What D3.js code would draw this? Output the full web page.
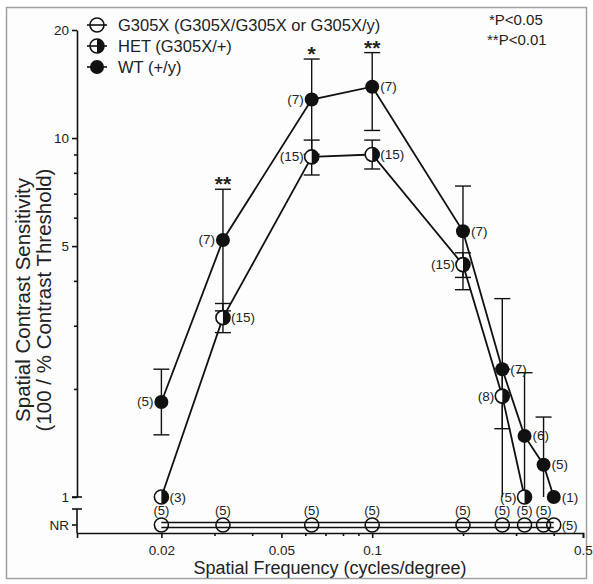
<!DOCTYPE html>
<html>
<head>
<meta charset="utf-8">
<script src="https://cdn.jsdelivr.net/npm/d3@7"></script>
<style>
    body { margin: 0; background: #fff; }
    svg { display: block; font-family: "Liberation Sans", Arial, sans-serif; }
    .axis text { font-size: 13.5px; fill: #222; }
    .axis path, .axis line { stroke: #111; stroke-width: 1.6; }
</style>
</head>
<body>
<svg id="chart"></svg>
<script>
// spatial frequencies (cycles/degree)
const freqs = [0.02, 0.032, 0.063, 0.1, 0.2, 0.27, 0.32, 0.37, 0.4];

// WT (+/y)
const wtMean = [1.84, 5.2, 12.8, 13.9, 5.5, 2.27, 1.48, 1.23, 1.0];
const wtHi   = [2.27, 7.2, 16.6, 17.3, 7.35, 3.57, 2.22, 1.67, null];
const wtLo   = [1.49, 3.3, 9.0, 10.5, 3.78, 0.97, 0.74, 0.79, null];
const wtN    = [5, 7, 7, 7, 7, 7, 6, 5, 1];
const wtSide = ["l", "l", "l", "r", "r", "r", "r", "r", "r"];

// HET (G305X/+) - only the first 7 frequencies
const hetMean = [1.0, 3.16, 8.86, 9.0, 4.44, 1.91, 1.0];
const hetHi   = [null, 3.46, 9.87, 9.87, 4.79, 2.27, null];
const hetLo   = [null, 2.87, 7.89, 8.2, 4.09, 1.55, null];
const hetN    = [3, 15, 15, 15, 15, 8, 5];
const hetSide = ["r", "r", "l", "r", "l", "l", "l"];

// G305X - no response at every frequency
const g305N = [5, 5, 5, 5, 5, 5, 5, 5, 5];

// significance marks
const sigFreq  = [0.032, 0.063, 0.1];
const sigLabel = ["**", "*", "**"];

const yTicks = [1, 5, 10, 20];
const yMinor = [2, 3, 4, 6, 7, 8, 9];
const xTicks = [0.02, 0.05, 0.1, 0.5];
const xMinor = [0.03, 0.04, 0.06, 0.07, 0.08, 0.09, 0.2, 0.3, 0.4];

const legendLabels = ["G305X (G305X/G305X or G305X/y)", "HET (G305X/+)", "WT (+/y)"];

const W = 593, H = 584;
const svg = d3.select("#chart").attr("width", W).attr("height", H);

// outer frame
svg.append("rect")
    .attr("x", 6.5).attr("y", 7.5)
    .attr("width", 580).attr("height", 571)
    .attr("fill", "#fdfdfd")
    .attr("stroke", "#a0a0a0")
    .attr("stroke-width", 1.5);

const x = d3.scaleLog().domain([0.0105, 0.5]).range([77, 583]);
const y = d3.scaleLog().domain([1, 20]).range([497, 30]);
const xAxisY = 533;
const nrY = y(1) + 28;
const yc = v => y(Math.max(v, 1));

// y axis (upper part)
svg.append("g").attr("class", "axis")
    .attr("transform", "translate(77,0)")
    .call(d3.axisLeft(y).tickValues(yTicks).tickSize(5).tickSizeOuter(0).tickPadding(3).tickFormat(d3.format("d")));
svg.append("g").attr("class", "axis")
    .attr("transform", "translate(77,0)")
    .call(d3.axisLeft(y).tickValues(yMinor).tickSize(3).tickSizeOuter(0).tickFormat(""))
    .select(".domain").remove();
svg.append("line")
    .attr("x1", 72).attr("x2", 82).attr("y1", y(1)).attr("y2", y(1))
    .attr("stroke", "#111").attr("stroke-width", 1.6);

// y axis (NR segment)
const ax = svg.append("g").attr("stroke", "#111").attr("stroke-width", 1.6);
ax.append("line").attr("x1", 77).attr("x2", 77).attr("y1", 509).attr("y2", xAxisY);
ax.append("line").attr("x1", 72).attr("x2", 82).attr("y1", 509).attr("y2", 509);
ax.append("line").attr("x1", 72).attr("x2", 77).attr("y1", nrY).attr("y2", nrY);
svg.append("text")
    .attr("x", 69).attr("y", nrY + 5)
    .attr("text-anchor", "end")
    .attr("font-size", 13.5).attr("fill", "#222")
    .text("NR");

// x axis
svg.append("g").attr("class", "axis")
    .attr("transform", `translate(0,${xAxisY})`)
    .call(d3.axisBottom(x).tickValues(xTicks).tickSize(5).tickSizeOuter(5).tickPadding(7).tickFormat(d => d));
svg.append("g").attr("class", "axis")
    .attr("transform", `translate(0,${xAxisY})`)
    .call(d3.axisBottom(x).tickValues(xMinor).tickSize(3).tickFormat(""))
    .select(".domain").remove();

// axis titles
svg.append("text")
    .attr("x", 330).attr("y", 574)
    .attr("text-anchor", "middle")
    .attr("font-size", 18).attr("fill", "#222")
    .text("Spatial Frequency (cycles/degree)");

const yt = svg.append("g").attr("transform", "translate(0,300) rotate(-90)");
yt.append("text").attr("x", 0).attr("y", 30)
    .attr("text-anchor", "middle").attr("font-size", 20.5).attr("fill", "#222")
    .text("Spatial Contrast Sensitivity");
yt.append("text").attr("x", 0).attr("y", 51)
    .attr("text-anchor", "middle").attr("font-size", 20.5).attr("fill", "#222")
    .text("(100 / % Contrast Threshold)");

// NR row for G305X
const nr = svg.append("g");
[-2.5, 2.5].forEach(off => {
    nr.append("line")
        .attr("x1", x(freqs[0])).attr("x2", x(freqs[freqs.length - 1]))
        .attr("y1", nrY + off).attr("y2", nrY + off)
        .attr("stroke", "#111").attr("stroke-width", 1.4);
});
nr.selectAll("circle").data(freqs).join("circle")
    .attr("cx", d => x(d)).attr("cy", nrY).attr("r", 7)
    .attr("fill", "none").attr("stroke", "#111").attr("stroke-width", 1.6);
nr.selectAll("text").data(freqs).join("text")
    .attr("x", (d, i) => i === freqs.length - 1 ? x(d) + 8 : x(d))
    .attr("y", (d, i) => i === freqs.length - 1 ? nrY + 4.5 : nrY - 10)
    .attr("text-anchor", (d, i) => i === freqs.length - 1 ? "start" : "middle")
    .attr("font-size", 13).attr("fill", "#222")
    .text((d, i) => `(${g305N[i]})`);

// series lines
const line = d3.line().x(d => x(d[0])).y(d => y(d[1]));
const wtPts = freqs.map((f, i) => [f, wtMean[i]]);
const hetPts = hetMean.map((v, i) => [freqs[i], v]);

svg.append("path").attr("d", line(hetPts))
    .attr("fill", "none").attr("stroke", "#111").attr("stroke-width", 1.8);
svg.append("path").attr("d", line(wtPts))
    .attr("fill", "none").attr("stroke", "#111").attr("stroke-width", 1.8);

// error bars
function errorBars(means, his, los) {
    const g = svg.append("g").attr("stroke", "#111").attr("stroke-width", 1.4);
    means.forEach((m, i) => {
        if (his[i] == null) return;
        const cx = x(freqs[i]);
        g.append("line").attr("x1", cx).attr("x2", cx)
            .attr("y1", yc(his[i])).attr("y2", yc(los[i]));
        g.append("line").attr("x1", cx - 8).attr("x2", cx + 8)
            .attr("y1", y(his[i])).attr("y2", y(his[i]));
        if (los[i] >= 1) {
            g.append("line").attr("x1", cx - 8).attr("x2", cx + 8)
                .attr("y1", y(los[i])).attr("y2", y(los[i]));
        }
    });
}
errorBars(hetMean, hetHi, hetLo);
errorBars(wtMean, wtHi, wtLo);

// markers
function halfMarker(g, cx, cy, r) {
    g.append("circle").attr("cx", cx).attr("cy", cy).attr("r", r)
        .attr("fill", "#fff").attr("stroke", "#111").attr("stroke-width", 1.6);
    g.append("path")
        .attr("d", `M${cx},${cy - r}A${r},${r} 0 0 1 ${cx},${cy + r}Z`)
        .attr("fill", "#111");
}
const mk = svg.append("g");
hetPts.forEach(p => halfMarker(mk, x(p[0]), y(p[1]), 7));
mk.selectAll("circle.wt").data(wtPts).join("circle").attr("class", "wt")
    .attr("cx", d => x(d[0])).attr("cy", d => y(d[1])).attr("r", 7)
    .attr("fill", "#111");

// n labels
function nLabels(pts, ns, sides) {
    svg.append("g").selectAll("text").data(pts).join("text")
        .attr("x", (d, i) => sides[i] === "l" ? x(d[0]) - 8 : x(d[0]) + 8)
        .attr("y", d => y(d[1]) + 4.5)
        .attr("text-anchor", (d, i) => sides[i] === "l" ? "end" : "start")
        .attr("font-size", 13.5).attr("fill", "#222")
        .text((d, i) => `(${ns[i]})`);
}
nLabels(wtPts, wtN, wtSide);
nLabels(hetPts, hetN, hetSide);

// significance stars
svg.append("g").selectAll("text").data(sigFreq).join("text")
    .attr("x", d => x(d))
    .attr("y", d => y(wtHi[freqs.indexOf(d)]) + 2)
    .attr("text-anchor", "middle")
    .attr("font-size", 21).attr("font-weight", "bold").attr("fill", "#222")
    .text((d, i) => sigLabel[i]);

// legend
const lg = svg.append("g");
legendLabels.forEach((t, i) => {
    const cy = 25 + i * 21;
    lg.append("line").attr("x1", 87).attr("x2", 107).attr("y1", cy).attr("y2", cy)
        .attr("stroke", "#111").attr("stroke-width", 1.6);
    if (i === 0) {
        lg.append("circle").attr("cx", 97).attr("cy", cy).attr("r", 7)
            .attr("fill", "none").attr("stroke", "#111").attr("stroke-width", 1.6);
    } else if (i === 1) {
        lg.append("circle").attr("cx", 97).attr("cy", cy).attr("r", 7)
            .attr("fill", "none").attr("stroke", "#111").attr("stroke-width", 1.6);
        lg.append("path").attr("d", `M97,${cy - 7}A7,7 0 0 1 97,${cy + 7}Z`).attr("fill", "#111");
    } else {
        lg.append("circle").attr("cx", 97).attr("cy", cy).attr("r", 7).attr("fill", "#111");
    }
    lg.append("text").attr("x", 118).attr("y", cy + 5.5)
        .attr("font-size", 16.5).attr("fill", "#222")
        .text(t);
});

// p-value notes
svg.append("text").attr("x", 489).attr("y", 25)
    .attr("font-size", 15).attr("fill", "#222").text("*P<0.05");
svg.append("text").attr("x", 487).attr("y", 45)
    .attr("font-size", 15).attr("fill", "#222").text("**P<0.01");
</script>
</body>
</html>
